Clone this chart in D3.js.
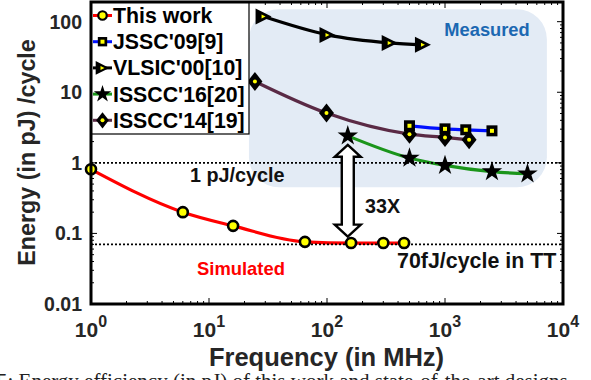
<!DOCTYPE html>
<html><head><meta charset="utf-8">
<script src="https://cdn.jsdelivr.net/npm/d3@7/dist/d3.min.js"></script>
<style>body{margin:0;background:#fff}svg{display:block}</style>
</head><body>
<svg id="c" width="591" height="380"></svg>
<script>
// ---- data ----
const thisWorkF = [1, 6, 16, 65, 160, 300, 450];
const thisWorkE = [0.81, 0.20, 0.128, 0.076, 0.073, 0.073, 0.073];
const jsscF = [500, 1000, 1500, 2500];
const jsscE = [3.35, 3.03, 2.94, 2.84];
const vlsicF = [29, 101, 340, 650];
const vlsicE = [118, 65, 50, 47];
const isscc16F = [150, 500, 1000, 2500, 5000];
const isscc16E = [2.41, 1.17, 0.92, 0.75, 0.70];
const isscc14F = [24.5, 99, 500, 1000, 1600];
const isscc14E = [14.2, 5.07, 2.55, 2.29, 2.12];
const seriesNames = ["This work", "JSSC'09[9]", "VLSIC'00[10]", "ISSCC'16[20]", "ISSCC'14[19]"];
const xTicks = [1, 10, 100, 1000, 10000];
const xTickExp = ["0", "1", "2", "3", "4"];
const yTicks = [0.01, 0.1, 1, 10, 100];
const yTickLabels = ["0.01", "0.1", "1", "10", "100"];
const refLines = [1, 0.07];
const arrowF = 150, arrowTop = 1.8, arrowBottom = 0.09;

const svg = d3.select("#c");
const FONT = "'Liberation Sans', Arial, sans-serif";
const L = 91, R = 563, T = 2, B = 304;
const x = d3.scaleLog().domain([1, 1e4]).range([L, R]);
const y = d3.scaleLog().domain([0.01, 190]).range([B, T]);

// measured region
const mx0 = x(21.8), mx1 = x(7300), my0 = y(150), my1 = y(0.45);
svg.append("rect").attr("x", mx0).attr("y", my0).attr("width", mx1 - mx0).attr("height", my1 - my0)
  .attr("rx", 30).attr("ry", 30).attr("fill", "#e3ebf5");

// ticks (inward on all sides)
const minorX = [], minorY = [];
for (let d = 1; d < 1e4; d *= 10) for (let k = 2; k < 10; k++) minorX.push(d * k);
for (let d = 0.01; d < 100; d *= 10) for (let k = 2; k < 10; k++) minorY.push(d * k);
const tk = svg.append("g").attr("stroke", "#000").attr("stroke-width", 1);
xTicks.forEach(v => {
  tk.append("line").attr("x1", x(v)).attr("x2", x(v)).attr("y1", B).attr("y2", B - 6);
  tk.append("line").attr("x1", x(v)).attr("x2", x(v)).attr("y1", T).attr("y2", T + 6);
});
minorX.forEach(v => {
  tk.append("line").attr("x1", x(v)).attr("x2", x(v)).attr("y1", B).attr("y2", B - 3);
  tk.append("line").attr("x1", x(v)).attr("x2", x(v)).attr("y1", T).attr("y2", T + 3);
});
yTicks.forEach(v => {
  tk.append("line").attr("x1", L).attr("x2", L + 6).attr("y1", y(v)).attr("y2", y(v));
  tk.append("line").attr("x1", R).attr("x2", R - 6).attr("y1", y(v)).attr("y2", y(v));
});
minorY.forEach(v => {
  tk.append("line").attr("x1", L).attr("x2", L + 3).attr("y1", y(v)).attr("y2", y(v));
  tk.append("line").attr("x1", R).attr("x2", R - 3).attr("y1", y(v)).attr("y2", y(v));
});

// markers
function marker(g, type, cx, cy, s) {
  s = s || 1;
  if (type === "circle") {
    g.append("circle").attr("cx", cx).attr("cy", cy).attr("r", 5 * s)
      .attr("fill", "#ffff00").attr("stroke", "#000").attr("stroke-width", 2.6 * s);
  } else if (type === "square") {
    const h = 5.5 * s;
    g.append("rect").attr("x", cx - h).attr("y", cy - h).attr("width", 2 * h).attr("height", 2 * h).attr("fill", "#000");
    g.append("rect").attr("x", cx - 2).attr("y", cy - 2).attr("width", 4).attr("height", 4).attr("fill", "#ffff00");
  } else if (type === "tri") {
    const w = 8 * s, h = 8 * s;
    g.append("path").attr("d", `M${cx - w},${cy - h}L${cx + w},${cy}L${cx - w},${cy + h}Z`).attr("fill", "#000");
    g.append("path").attr("d", `M${cx - 2},${cy - 2}L${cx + 2},${cy}L${cx - 2},${cy + 2}Z`).attr("fill", "#ffff00");
  } else if (type === "star") {
    g.append("path").attr("transform", `translate(${cx},${cy})`)
      .attr("d", d3.symbol().type(d3.symbolStar).size(130 * s * s)()).attr("fill", "#000");
  } else if (type === "diamond") {
    const w = 7.5 * s, h = 9.5 * s;
    g.append("path").attr("d", `M${cx},${cy - h}L${cx + w},${cy}L${cx},${cy + h}L${cx - w},${cy}Z`).attr("fill", "#000");
    g.append("circle").attr("cx", cx).attr("cy", cy).attr("r", 2).attr("fill", "#ffff00");
  }
}

const series = [
  { f: isscc14F, e: isscc14E, color: "#5a2a45", type: "diamond" },
  { f: isscc16F, e: isscc16E, color: "#1b951b", type: "star" },
  { f: jsscF, e: jsscE, color: "#0010ff", type: "square" },
  { f: vlsicF, e: vlsicE, color: "#000", type: "tri" },
  { f: thisWorkF, e: thisWorkE, color: "#ff0000", type: "circle" },
];
const line = d3.line().x(d => x(d[0])).y(d => y(d[1])).curve(d3.curveMonotoneX);
series.forEach(s => {
  const pts = s.f.map((f, i) => [f, s.e[i]]);
  svg.append("path").attr("d", line(pts)).attr("fill", "none").attr("stroke", s.color).attr("stroke-width", 3.2);
});

// reference dotted lines (over the series lines)
refLines.forEach(v => {
  svg.append("line").attr("x1", L).attr("x2", R).attr("y1", y(v)).attr("y2", y(v))
    .attr("stroke", "#000").attr("stroke-width", 1.6).attr("stroke-dasharray", "2,2");
});

series.forEach(s => {
  const g = svg.append("g");
  s.f.forEach((f, i) => marker(g, s.type, x(f), y(s.e[i])));
});

// double arrow
{
  const ax = x(arrowF), y0 = y(arrowTop), y1 = y(arrowBottom);
  const hw = 13, hh = 12, sw = 6;
  const d = `M${ax},${y0}L${ax + hw},${y0 + hh}L${ax + sw},${y0 + hh}L${ax + sw},${y1 - hh}L${ax + hw},${y1 - hh}` +
    `L${ax},${y1}L${ax - hw},${y1 - hh}L${ax - sw},${y1 - hh}L${ax - sw},${y0 + hh}L${ax - hw},${y0 + hh}Z`;
  svg.append("path").attr("d", d).attr("fill", "#fff").attr("stroke", "#000").attr("stroke-width", 2.4).attr("stroke-linejoin", "miter");
}

// legend
svg.append("rect").attr("x", L).attr("y", T).attr("width", 249 - L).attr("height", 134 - T)
  .attr("fill", "#fff").attr("stroke", "#000").attr("stroke-width", 1.2);
const legOrder = [
  { name: seriesNames[0], color: "#ff0000", type: "circle" },
  { name: seriesNames[1], color: "#0010ff", type: "square" },
  { name: seriesNames[2], color: "#000", type: "tri" },
  { name: seriesNames[3], color: "#1b951b", type: "star" },
  { name: seriesNames[4], color: "#5a2a45", type: "diamond" },
];
legOrder.forEach((d, i) => {
  const cy = 15.5 + i * 26.2;
  const g = svg.append("g");
  g.append("line").attr("x1", 93).attr("x2", 112).attr("y1", cy).attr("y2", cy).attr("stroke", d.color).attr("stroke-width", 3);
  marker(g, d.type, 102.5, cy, 0.85);
  g.append("text").attr("x", 113).attr("y", cy + 7.5).text(d.name)
    .attr("font-family", FONT).attr("font-weight", "bold").attr("font-size", 21.3).attr("fill", "#000");
});

// frame
svg.append("rect").attr("x", L).attr("y", T).attr("width", R - L).attr("height", B - T)
  .attr("fill", "none").attr("stroke", "#000").attr("stroke-width", 3);

// tick labels
yTicks.forEach((v, i) => {
  svg.append("text").attr("x", 82).attr("y", y(v) + 7).attr("text-anchor", "end").text(yTickLabels[i])
    .attr("font-family", FONT).attr("font-weight", "bold").attr("font-size", 19.5).attr("fill", "#262626");
});
xTicks.forEach((v, i) => {
  const t = svg.append("text").attr("x", x(v)).attr("y", 337).attr("text-anchor", "middle")
    .attr("font-family", FONT).attr("font-weight", "bold").attr("font-size", 21).attr("fill", "#262626");
  t.append("tspan").text("10");
  t.append("tspan").text(xTickExp[i]).attr("font-size", 16).attr("dy", -10);
});

// axis titles
svg.append("text").attr("x", 326.5).attr("y", 366).attr("text-anchor", "middle").text("Frequency (in MHz)")
  .attr("font-family", FONT).attr("font-weight", "bold").attr("font-size", 25.5).attr("fill", "#262626");
svg.append("text").attr("transform", "translate(35,152.5) rotate(-90)").attr("text-anchor", "middle").text("Energy (in pJ) /cycle")
  .attr("font-family", FONT).attr("font-weight", "bold").attr("font-size", 23.3).attr("fill", "#262626");

// annotations
function ann(txt, xx, yy, size, color, anchor) {
  svg.append("text").attr("x", xx).attr("y", yy).attr("text-anchor", anchor || "start").text(txt)
    .attr("font-family", FONT).attr("font-weight", "bold").attr("font-size", size).attr("fill", color);
}
ann("Measured", 487, 36, 18.3, "#1c68b2", "middle");
ann("1 pJ/cycle", 190, 182, 19.8, "#111");
ann("33X", 365, 213, 19.7, "#111");
ann("Simulated", 197, 275, 18.4, "#ff0000");
ann("70fJ/cycle in TT", 397, 268, 21.4, "#111");

// cut-off caption
svg.append("text").attr("x", -3).attr("y", 388).text("5: Energy efficiency (in pJ) of this work and state-of-the-art designs.")
  .attr("font-family", "'Liberation Serif', 'Times New Roman', serif").attr("font-size", 21).attr("fill", "#222");
</script>
</body></html>
